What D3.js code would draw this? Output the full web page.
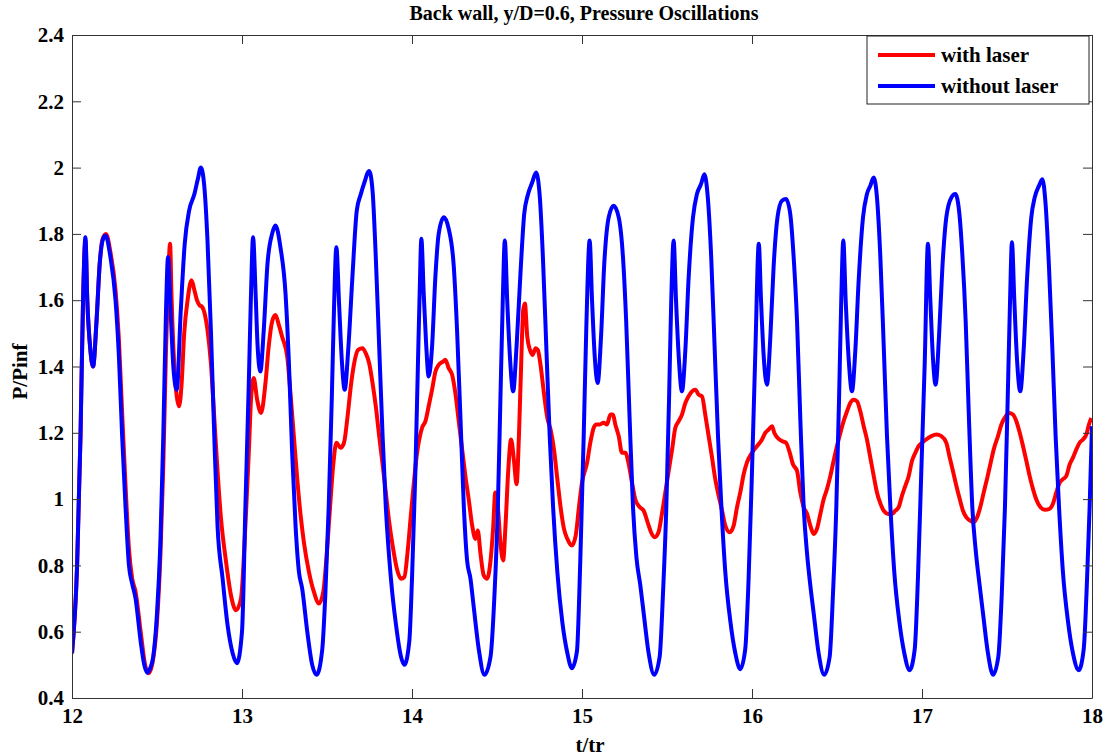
<!DOCTYPE html>
<html>
<head>
<meta charset="utf-8">
<script src="https://cdn.jsdelivr.net/npm/d3@7"></script>
<style>
  body { margin: 0; background: #fff; }
  text { font-family: 'Liberation Serif', 'Times New Roman', serif; font-weight: bold; fill: #000; }
</style>
</head>
<body>
<div id="chart"></div>
<script>
const title = 'Back wall, y/D=0.6, Pressure Oscillations';
const xTicks = [12, 13, 14, 15, 16, 17, 18];
const yTicks = [0.4, 0.6, 0.8, 1, 1.2, 1.4, 1.6, 1.8, 2, 2.2, 2.4];
const seriesNames = ['with laser', 'without laser'];

// without laser (blue): [t/tr, P/Pinf]
const withoutLaser = [
  [12.0,0.535],[12.03,0.80],[12.05,1.19],[12.065,1.6],[12.079,1.79],[12.09,1.6],[12.108,1.45],[12.124,1.40],
  [12.144,1.535],[12.163,1.71],[12.18,1.78],[12.197,1.795],[12.226,1.73],[12.256,1.6],[12.276,1.43],[12.295,1.19],
  [12.315,0.976],[12.335,0.80],[12.354,0.745],[12.374,0.70],[12.404,0.57],[12.425,0.50],[12.443,0.476],[12.46,0.49],
  [12.478,0.525],[12.50,0.655],[12.52,0.87],[12.537,1.19],[12.553,1.57],[12.565,1.73],[12.58,1.57],[12.596,1.40],
  [12.616,1.33],[12.64,1.57],[12.663,1.77],[12.689,1.87],[12.72,1.92],[12.74,1.965],[12.758,2.0],[12.778,1.945],
  [12.797,1.78],[12.817,1.51],[12.837,1.19],[12.856,0.92],[12.886,0.76],[12.915,0.62],[12.945,0.535],[12.97,0.505],
  [13.0,0.6],[13.02,0.976],[13.04,1.35],[13.053,1.62],[13.065,1.79],[13.08,1.62],[13.092,1.46],[13.108,1.385],
  [13.128,1.51],[13.15,1.71],[13.177,1.80],[13.197,1.825],[13.226,1.76],[13.256,1.62],[13.276,1.41],[13.295,1.14],
  [13.315,0.92],[13.335,0.78],[13.354,0.73],[13.384,0.60],[13.413,0.50],[13.439,0.47],[13.472,0.546],[13.49,0.71],
  [13.51,0.976],[13.528,1.30],[13.541,1.57],[13.555,1.76],[13.571,1.59],[13.587,1.42],[13.604,1.33],[13.626,1.46],
  [13.65,1.675],[13.675,1.87],[13.699,1.92],[13.72,1.955],[13.748,1.99],[13.768,1.93],[13.787,1.73],[13.807,1.46],
  [13.827,1.19],[13.846,0.976],[13.876,0.76],[13.906,0.62],[13.935,0.525],[13.955,0.50],[13.984,0.57],[14.0,0.76],
  [14.02,1.085],[14.035,1.41],[14.045,1.62],[14.055,1.785],[14.069,1.62],[14.083,1.47],[14.098,1.37],[14.118,1.46],
  [14.138,1.675],[14.157,1.80],[14.187,1.85],[14.216,1.815],[14.246,1.70],[14.265,1.51],[14.285,1.245],[14.305,0.976],
  [14.324,0.815],[14.344,0.76],[14.363,0.675],[14.393,0.546],[14.426,0.47],[14.462,0.525],[14.485,0.71],[14.505,0.976],
  [14.52,1.30],[14.534,1.6],[14.546,1.78],[14.56,1.6],[14.576,1.43],[14.595,1.325],[14.615,1.46],[14.64,1.70],
  [14.66,1.86],[14.68,1.915],[14.707,1.955],[14.73,1.985],[14.752,1.91],[14.77,1.73],[14.79,1.46],[14.81,1.19],
  [14.83,0.976],[14.855,0.78],[14.884,0.63],[14.914,0.535],[14.94,0.49],[14.97,0.54],[14.99,0.815],[15.01,1.19],
  [15.025,1.51],[15.045,1.78],[15.059,1.60],[15.075,1.43],[15.092,1.35],[15.112,1.49],[15.131,1.71],[15.157,1.85],
  [15.186,1.885],[15.216,1.85],[15.241,1.73],[15.26,1.535],[15.28,1.245],[15.3,0.976],[15.32,0.825],[15.343,0.74],
  [15.363,0.655],[15.392,0.535],[15.425,0.47],[15.457,0.525],[15.476,0.71],[15.496,0.976],[15.512,1.30],[15.525,1.60],
  [15.539,1.78],[15.553,1.60],[15.569,1.43],[15.588,1.325],[15.608,1.45],[15.627,1.665],[15.653,1.85],[15.676,1.92],
  [15.7,1.95],[15.72,1.98],[15.74,1.91],[15.76,1.73],[15.78,1.46],[15.8,1.19],[15.82,0.976],[15.843,0.78],
  [15.873,0.63],[15.902,0.535],[15.931,0.487],[15.96,0.546],[15.98,0.76],[16.0,1.085],[16.02,1.45],[16.04,1.77],
  [16.053,1.60],[16.069,1.43],[16.088,1.345],[16.108,1.49],[16.127,1.70],[16.15,1.85],[16.176,1.90],[16.2,1.905],
  [16.225,1.86],[16.245,1.73],[16.265,1.535],[16.284,1.245],[16.304,0.976],[16.324,0.835],[16.343,0.74],[16.363,0.655],
  [16.392,0.535],[16.425,0.47],[16.457,0.525],[16.476,0.71],[16.496,0.976],[16.512,1.30],[16.525,1.60],[16.537,1.78],
  [16.551,1.60],[16.569,1.42],[16.588,1.325],[16.608,1.45],[16.627,1.655],[16.653,1.85],[16.676,1.92],[16.696,1.945],
  [16.716,1.97],[16.735,1.91],[16.755,1.73],[16.775,1.46],[16.794,1.19],[16.814,0.976],[16.837,0.78],[16.867,0.63],
  [16.896,0.535],[16.927,0.484],[16.957,0.546],[16.976,0.76],[16.996,1.085],[17.016,1.41],[17.035,1.77],[17.049,1.60],
  [17.065,1.42],[17.08,1.345],[17.1,1.49],[17.12,1.70],[17.143,1.85],[17.173,1.91],[17.196,1.92],[17.218,1.87],
  [17.237,1.74],[17.257,1.535],[17.276,1.245],[17.296,0.976],[17.316,0.845],[17.339,0.74],[17.359,0.655],[17.388,0.535],
  [17.418,0.47],[17.449,0.525],[17.469,0.71],[17.488,0.976],[17.504,1.30],[17.518,1.60],[17.529,1.775],[17.543,1.60],
  [17.559,1.42],[17.578,1.325],[17.598,1.45],[17.618,1.665],[17.643,1.85],[17.663,1.91],[17.688,1.945],[17.708,1.965],
  [17.727,1.89],[17.747,1.70],[17.767,1.45],[17.786,1.19],[17.806,0.976],[17.829,0.78],[17.859,0.63],[17.888,0.535],
  [17.922,0.484],[17.951,0.546],[17.971,0.76],[17.986,0.976],[18.0,1.22]
];

// with laser (red)
const withLaser = [
  [12.0,0.535],[12.03,0.80],[12.05,1.19],[12.065,1.6],[12.079,1.78],[12.09,1.6],[12.108,1.45],[12.124,1.40],
  [12.144,1.535],[12.163,1.71],[12.18,1.785],[12.2,1.80],[12.226,1.745],[12.256,1.63],[12.276,1.48],[12.295,1.26],
  [12.315,1.04],[12.335,0.85],[12.354,0.76],[12.374,0.72],[12.404,0.60],[12.43,0.50],[12.452,0.475],[12.478,0.52],
  [12.50,0.63],[12.52,0.83],[12.537,1.10],[12.553,1.45],[12.565,1.65],[12.577,1.77],[12.585,1.62],[12.6,1.42],
  [12.63,1.28],[12.645,1.35],[12.66,1.50],[12.68,1.60],[12.703,1.66],[12.72,1.63],[12.735,1.60],[12.75,1.585],
  [12.765,1.58],[12.797,1.51],[12.817,1.41],[12.837,1.245],[12.856,1.085],[12.876,0.944],[12.905,0.815],[12.935,0.71],
  [12.965,0.665],[12.994,0.70],[13.02,0.92],[13.04,1.14],[13.053,1.30],[13.069,1.365],[13.089,1.30],[13.112,1.26],
  [13.138,1.35],[13.157,1.46],[13.177,1.535],[13.197,1.555],[13.217,1.525],[13.236,1.49],[13.266,1.43],[13.285,1.32],
  [13.305,1.19],[13.325,1.06],[13.344,0.955],[13.364,0.87],[13.394,0.78],[13.423,0.72],[13.453,0.685],[13.478,0.72],
  [13.498,0.83],[13.518,0.976],[13.537,1.105],[13.555,1.17],[13.58,1.155],[13.6,1.17],[13.62,1.245],[13.64,1.34],
  [13.66,1.41],[13.683,1.45],[13.709,1.455],[13.728,1.44],[13.748,1.41],[13.768,1.35],[13.787,1.28],[13.807,1.19],
  [13.827,1.105],[13.846,1.02],[13.866,0.93],[13.886,0.86],[13.911,0.79],[13.935,0.76],[13.955,0.765],[13.974,0.84],
  [13.994,0.955],[14.03,1.14],[14.059,1.215],[14.079,1.235],[14.098,1.28],[14.118,1.33],[14.138,1.385],[14.157,1.405],
  [14.183,1.415],[14.196,1.42],[14.216,1.395],[14.236,1.375],[14.255,1.32],[14.275,1.235],[14.295,1.15],[14.314,1.07],
  [14.334,0.998],[14.354,0.92],[14.373,0.88],[14.387,0.905],[14.403,0.835],[14.422,0.77],[14.442,0.76],[14.462,0.815],
  [14.477,0.91],[14.49,1.02],[14.505,0.976],[14.52,0.87],[14.536,0.815],[14.55,0.92],[14.566,1.085],[14.583,1.18],
  [14.6,1.115],[14.615,1.045],[14.629,1.19],[14.642,1.405],[14.654,1.57],[14.664,1.59],[14.678,1.49],[14.694,1.45],
  [14.709,1.435],[14.727,1.455],[14.74,1.45],[14.756,1.405],[14.776,1.32],[14.796,1.245],[14.815,1.21],[14.835,1.15],
  [14.855,1.06],[14.874,0.976],[14.894,0.91],[14.914,0.88],[14.94,0.86],[14.963,0.89],[14.982,0.976],[15.0,1.05],
  [15.03,1.11],[15.049,1.17],[15.069,1.215],[15.084,1.225],[15.104,1.225],[15.127,1.23],[15.147,1.225],[15.167,1.255],
  [15.182,1.255],[15.196,1.225],[15.216,1.19],[15.235,1.14],[15.255,1.14],[15.275,1.105],[15.294,1.05],[15.314,0.998],
  [15.339,0.976],[15.363,0.965],[15.386,0.93],[15.406,0.90],[15.427,0.885],[15.45,0.90],[15.47,0.955],[15.49,1.02],
  [15.51,1.085],[15.53,1.15],[15.549,1.215],[15.569,1.235],[15.588,1.255],[15.608,1.29],[15.627,1.31],[15.647,1.325],
  [15.667,1.33],[15.686,1.315],[15.706,1.31],[15.725,1.255],[15.745,1.19],[15.765,1.125],[15.784,1.06],[15.804,1.01],
  [15.824,0.965],[15.843,0.92],[15.869,0.90],[15.892,0.92],[15.912,0.976],[15.931,1.02],[15.951,1.075],[15.97,1.11],
  [16.0,1.14],[16.03,1.16],[16.059,1.18],[16.078,1.20],[16.098,1.21],[16.118,1.22],[16.131,1.20],[16.15,1.185],
  [16.176,1.175],[16.2,1.17],[16.222,1.14],[16.241,1.105],[16.265,1.085],[16.284,1.02],[16.304,0.976],[16.324,0.955],
  [16.343,0.92],[16.363,0.895],[16.382,0.91],[16.402,0.955],[16.422,1.0],[16.441,1.03],[16.461,1.07],[16.48,1.115],
  [16.5,1.16],[16.52,1.20],[16.539,1.235],[16.559,1.265],[16.578,1.29],[16.598,1.30],[16.618,1.295],[16.637,1.265],
  [16.657,1.22],[16.676,1.18],[16.696,1.125],[16.716,1.07],[16.735,1.02],[16.755,0.987],[16.775,0.965],[16.804,0.955],
  [16.824,0.955],[16.843,0.965],[16.863,0.976],[16.882,1.01],[16.902,1.04],[16.922,1.07],[16.941,1.115],[16.961,1.14],
  [16.98,1.16],[17.0,1.17],[17.025,1.18],[17.055,1.19],[17.084,1.195],[17.114,1.19],[17.143,1.17],[17.163,1.125],
  [17.182,1.085],[17.202,1.04],[17.222,1.0],[17.241,0.965],[17.261,0.945],[17.284,0.935],[17.304,0.93],[17.324,0.945],
  [17.343,0.976],[17.363,1.02],[17.382,1.06],[17.402,1.105],[17.422,1.15],[17.447,1.19],[17.467,1.225],[17.486,1.245],
  [17.512,1.26],[17.535,1.255],[17.555,1.235],[17.575,1.20],[17.594,1.16],[17.614,1.115],[17.633,1.07],[17.653,1.03],
  [17.673,0.998],[17.696,0.976],[17.722,0.968],[17.747,0.97],[17.771,0.987],[17.79,1.02],[17.81,1.05],[17.829,1.06],
  [17.849,1.07],[17.869,1.105],[17.888,1.125],[17.908,1.15],[17.927,1.17],[17.947,1.18],[17.967,1.195],[17.982,1.225],
  [17.996,1.245]
];

const W = 1112, H = 756;
const margin = { top: 35, right: 20, bottom: 58, left: 72 };
const width = W - margin.left - margin.right;
const height = H - margin.top - margin.bottom;

const svg = d3.select('#chart').append('svg').attr('width', W).attr('height', H);
const g = svg.append('g').attr('transform', `translate(${margin.left},${margin.top})`);

const x = d3.scaleLinear().domain([12, 18]).range([0, width]);
const y = d3.scaleLinear().domain([0.4, 2.4]).range([height, 0]);

svg.append('text').attr('x', margin.left + width / 2 + 2).attr('y', 20).attr('text-anchor', 'middle')
  .attr('font-size', '20px').text(title);

g.append('defs').append('clipPath').attr('id', 'clip')
  .append('rect').attr('width', width).attr('height', height);

const line = d3.line().x(d => x(d[0])).y(d => y(d[1])).curve(d3.curveMonotoneX);

const plot = g.append('g').attr('clip-path', 'url(#clip)');
plot.append('path').datum(withLaser).attr('fill', 'none').attr('stroke', '#ff0000')
  .attr('stroke-width', 4).attr('stroke-linejoin', 'round').attr('d', line);
plot.append('path').datum(withoutLaser).attr('fill', 'none').attr('stroke', '#0000ff')
  .attr('stroke-width', 4).attr('stroke-linejoin', 'round').attr('d', line);

// MATLAB style box with inward ticks
const styleAxis = sel => sel
  .call(a => a.select('.domain').attr('stroke', '#333'))
  .call(a => a.selectAll('.tick line').attr('stroke', '#333'))
  .call(a => a.selectAll('.tick text').attr('font-size', '21px').attr('font-family', "'Liberation Serif', serif").attr('font-weight', 'bold').attr('fill', '#000'));

g.append('g').attr('transform', `translate(0,${height})`)
  .call(d3.axisBottom(x).tickValues(xTicks).tickSize(-9).tickSizeOuter(0).tickPadding(10).tickFormat(d3.format('d')))
  .call(styleAxis);
g.append('g')
  .call(d3.axisLeft(y).tickValues(yTicks).tickSize(-9).tickSizeOuter(0).tickPadding(8).tickFormat(d => d3.format('')(+d.toFixed(1))))
  .call(styleAxis);
g.append('g')
  .call(d3.axisTop(x).tickValues(xTicks).tickSize(-9).tickSizeOuter(0).tickFormat(''))
  .call(styleAxis);
g.append('g').attr('transform', `translate(${width},0)`)
  .call(d3.axisRight(y).tickValues(yTicks).tickSize(-9).tickSizeOuter(0).tickFormat(''))
  .call(styleAxis);

svg.append('text').attr('x', margin.left + width / 2 + 8).attr('y', 752).attr('text-anchor', 'middle')
  .attr('font-size', '21px').text('t/tr');
svg.append('text').attr('transform', `translate(27,${margin.top + height / 2 + 5}) rotate(-90)`)
  .attr('text-anchor', 'middle').attr('font-size', '21px').text('P/Pinf');

// legend
const lg = svg.append('g').attr('transform', 'translate(867,36)');
lg.append('rect').attr('width', 222).attr('height', 68).attr('fill', '#fff').attr('stroke', '#222').attr('stroke-width', 1);
[['#ff0000', 0], ['#0000ff', 1]].forEach(([c, i]) => {
  const yy = 19 + i * 31;
  lg.append('line').attr('x1', 11).attr('x2', 68).attr('y1', yy).attr('y2', yy).attr('stroke', c).attr('stroke-width', 4);
  lg.append('text').attr('x', 74).attr('y', yy + 7).attr('font-size', '21px').text(seriesNames[i]);
});
</script>
</body>
</html>
